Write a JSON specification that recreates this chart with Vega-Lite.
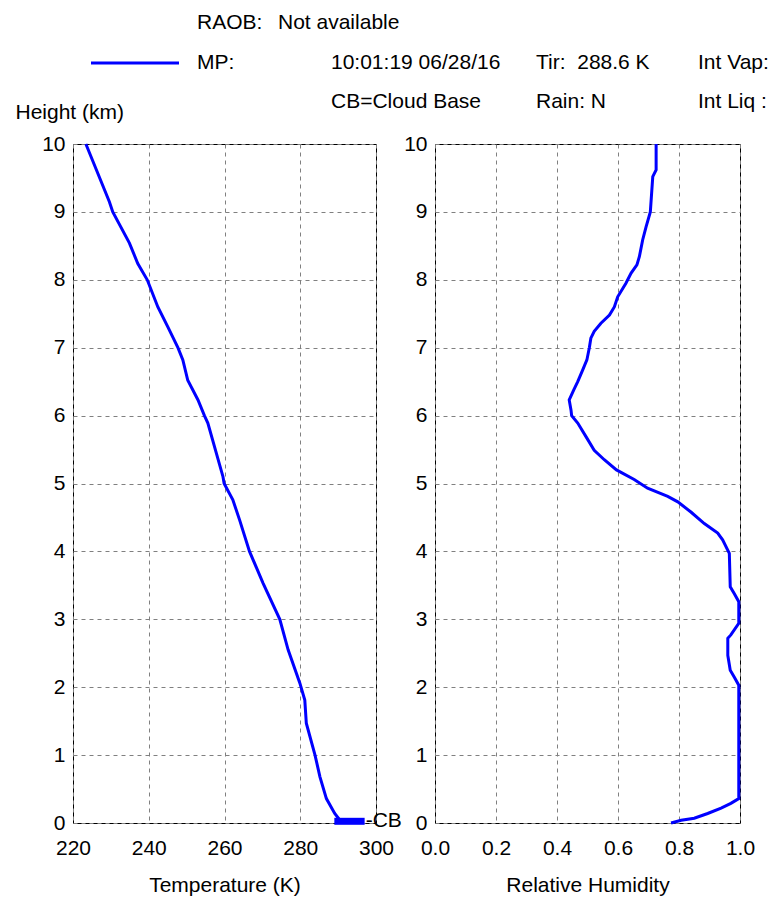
{
  "$schema": "https://vega.github.io/schema/vega-lite/v6.json",
  "background": "white",
  "padding": {"left": 14, "top": 11, "right": 5, "bottom": 5},
  "config": {
    "font": "Liberation Sans",
    "view": {"stroke": "#000000", "strokeWidth": 1},
    "axis": {
      "labelFont": "Liberation Sans", "labelFontSize": 21, "labelColor": "#000000",
      "titleFont": "Liberation Sans", "titleFontSize": 21, "titleFontWeight": "normal", "titleColor": "#000000",
      "domain": false, "ticks": false, "grid": true,
      "gridColor": "#808080", "gridDash": [4, 4], "gridWidth": 1, "gridOpacity": 1,
      "labelFlush": false, "labelOverlap": false
    },
    "text": {"font": "Liberation Sans", "fontSize": 21, "color": "#000000"}
  },
  "datasets": {
    "temp": [
      {"h": 10.0, "T": 223.4}, {"h": 9.15, "T": 229.6}, {"h": 9.0, "T": 230.5}, {"h": 8.54, "T": 234.9},
      {"h": 8.24, "T": 237.1}, {"h": 8.0, "T": 239.6}, {"h": 7.6, "T": 242.4}, {"h": 7.31, "T": 245.0},
      {"h": 7.0, "T": 247.7}, {"h": 6.82, "T": 249.0}, {"h": 6.52, "T": 250.3}, {"h": 6.23, "T": 253.0},
      {"h": 6.0, "T": 254.7}, {"h": 5.89, "T": 255.6}, {"h": 5.1, "T": 259.6}, {"h": 5.0, "T": 259.9},
      {"h": 4.76, "T": 262.2}, {"h": 4.46, "T": 264.0}, {"h": 4.0, "T": 266.6}, {"h": 3.53, "T": 270.2},
      {"h": 3.0, "T": 274.6}, {"h": 2.55, "T": 276.8}, {"h": 2.06, "T": 279.9}, {"h": 1.81, "T": 281.2},
      {"h": 1.47, "T": 281.6}, {"h": 1.0, "T": 283.9}, {"h": 0.68, "T": 285.2}, {"h": 0.36, "T": 286.9},
      {"h": 0.14, "T": 289.1}, {"h": 0.04, "T": 290.5}, {"h": 0.0, "T": 290.8}
    ],
    "cloudbase": [
      {"h": 0.025, "T_start": 289.0, "T_end": 297.0, "label": "-CB"}
    ],
    "rh": [
      {"h": 10.0, "RH": 0.725}, {"h": 9.62, "RH": 0.725}, {"h": 9.52, "RH": 0.714}, {"h": 9.0, "RH": 0.706},
      {"h": 8.78, "RH": 0.692}, {"h": 8.59, "RH": 0.681}, {"h": 8.34, "RH": 0.670}, {"h": 8.22, "RH": 0.662},
      {"h": 8.10, "RH": 0.643}, {"h": 7.95, "RH": 0.626}, {"h": 7.75, "RH": 0.599}, {"h": 7.60, "RH": 0.588},
      {"h": 7.48, "RH": 0.572}, {"h": 7.36, "RH": 0.544}, {"h": 7.24, "RH": 0.522}, {"h": 7.14, "RH": 0.511},
      {"h": 7.0, "RH": 0.506}, {"h": 6.82, "RH": 0.498}, {"h": 6.67, "RH": 0.484}, {"h": 6.50, "RH": 0.468},
      {"h": 6.38, "RH": 0.455}, {"h": 6.23, "RH": 0.440}, {"h": 6.08, "RH": 0.446}, {"h": 6.0, "RH": 0.448},
      {"h": 5.89, "RH": 0.468}, {"h": 5.69, "RH": 0.495}, {"h": 5.49, "RH": 0.522}, {"h": 5.35, "RH": 0.555},
      {"h": 5.20, "RH": 0.595}, {"h": 5.06, "RH": 0.653}, {"h": 4.93, "RH": 0.697}, {"h": 4.81, "RH": 0.763},
      {"h": 4.73, "RH": 0.796}, {"h": 4.58, "RH": 0.839}, {"h": 4.41, "RH": 0.883}, {"h": 4.27, "RH": 0.927},
      {"h": 4.17, "RH": 0.943}, {"h": 3.97, "RH": 0.965}, {"h": 3.48, "RH": 0.968}, {"h": 3.38, "RH": 0.981},
      {"h": 3.26, "RH": 0.996}, {"h": 2.94, "RH": 0.996}, {"h": 2.77, "RH": 0.970}, {"h": 2.72, "RH": 0.960},
      {"h": 2.47, "RH": 0.960}, {"h": 2.25, "RH": 0.968}, {"h": 2.15, "RH": 0.981}, {"h": 2.03, "RH": 0.996},
      {"h": 0.36, "RH": 0.996}, {"h": 0.29, "RH": 0.970}, {"h": 0.22, "RH": 0.938}, {"h": 0.14, "RH": 0.894},
      {"h": 0.07, "RH": 0.850}, {"h": 0.04, "RH": 0.807}, {"h": 0.0, "RH": 0.774}
    ],
    "header": [
      {"row": 1, "col": 1, "text": "RAOB:"},
      {"row": 1, "col": 2, "text": "Not available"},
      {"row": 2, "col": 1, "text": "MP:"},
      {"row": 2, "col": 3, "text": "10:01:19 06/28/16"},
      {"row": 2, "col": 4, "text": "Tir:\u00a0 288.6 K"},
      {"row": 2, "col": 5, "text": "Int Vap:"},
      {"row": 3, "col": 3, "text": "CB=Cloud Base"},
      {"row": 3, "col": 4, "text": "Rain: N"},
      {"row": 3, "col": 5, "text": "Int Liq :"}
    ],
    "legend": [
      {"row": 2, "col": 0, "series": "MP"}
    ]
  },
  "spacing": 59,
  "bounds": "flush",
  "hconcat": [
    {
      "width": 303,
      "height": 679,
      "layer": [
        {
          "layer": [
            {
              "data": {"name": "temp"},
              "mark": {"type": "line", "color": "#0000ff", "strokeWidth": 3},
              "encoding": {
                "x": {
                  "field": "T", "type": "quantitative", "title": "Temperature (K)",
                  "scale": {"domain": [220, 300], "nice": false, "zero": false},
                  "axis": {
                    "values": [220, 230, 240, 250, 260, 270, 280, 290, 300],
                    "labelExpr": "datum.value % 20 === 0 ? datum.label : ''",
                    "format": "d",
                    "labelPadding": 14, "titlePadding": 16
                  }
                },
                "y": {
                  "field": "h", "type": "quantitative", "title": "Height (km)",
                  "scale": {"domain": [0, 10], "nice": false},
                  "axis": {
                    "values": [0, 1, 2, 3, 4, 5, 6, 7, 8, 9, 10],
                    "format": "d",
                    "labelPadding": 8,
                    "titleAngle": 0, "titleAlign": "left", "titleBaseline": "middle",
                    "titleX": -58, "titleY": -32
                  }
                },
                "order": {"field": "h", "type": "quantitative"}
              }
            },
            {
              "data": {"name": "cloudbase"},
              "mark": {"type": "rule", "color": "#0000ff", "strokeWidth": 7},
              "encoding": {
                "x": {"field": "T_start", "type": "quantitative", "title": "Temperature (K)"},
                "x2": {"field": "T_end"},
                "y": {"field": "h", "type": "quantitative", "title": "Height (km)"}
              }
            },
            {
              "data": {"name": "cloudbase"},
              "mark": {"type": "text", "align": "left", "baseline": "middle", "dx": 1, "fontSize": 21},
              "encoding": {
                "x": {"field": "T_end", "type": "quantitative", "title": "Temperature (K)"},
                "y": {"field": "h", "type": "quantitative", "title": "Height (km)"},
                "text": {"field": "label"}
              }
            }
          ]
        },
        {
          "layer": [
            {
              "data": {"name": "header"},
              "mark": {"type": "text", "align": "left", "baseline": "middle", "fontSize": 21},
              "encoding": {
                "x": {"field": "col", "type": "quantitative", "axis": null,
                      "scale": {"domain": [0, 1, 2, 3, 4, 5], "range": [62, 124, 205, 258, 463, 625], "nice": false, "zero": false}},
                "y": {"field": "row", "type": "quantitative", "axis": null,
                      "scale": {"domain": [1, 2, 3], "range": [-121, -81, -42], "nice": false, "zero": false}},
                "text": {"field": "text"}
              }
            },
            {
              "data": {"name": "legend"},
              "mark": {"type": "point", "shape": "M-1,0L1,0", "size": 7744, "filled": false, "stroke": "#0000ff", "strokeWidth": 3, "opacity": 1},
              "encoding": {
                "x": {"field": "col", "type": "quantitative", "axis": null},
                "y": {"field": "row", "type": "quantitative", "axis": null}
              }
            }
          ]
        }
      ],
      "resolve": {"scale": {"x": "independent", "y": "independent"}, "axis": {"x": "independent", "y": "independent"}}
    },
    {
      "width": 305,
      "height": 679,
      "data": {"name": "rh"},
      "mark": {"type": "line", "color": "#0000ff", "strokeWidth": 3},
      "encoding": {
        "x": {
          "field": "RH", "type": "quantitative", "title": "Relative Humidity",
          "scale": {"domain": [0, 1], "nice": false, "zero": false},
          "axis": {"values": [0, 0.2, 0.4, 0.6, 0.8, 1.0], "format": ".1f", "labelPadding": 14, "titlePadding": 16}
        },
        "y": {
          "field": "h", "type": "quantitative",
          "scale": {"domain": [0, 10], "nice": false},
          "axis": {"values": [0, 1, 2, 3, 4, 5, 6, 7, 8, 9, 10], "format": "d", "labelPadding": 8, "title": null}
        },
        "order": {"field": "h", "type": "quantitative"}
      }
    }
  ]
}
